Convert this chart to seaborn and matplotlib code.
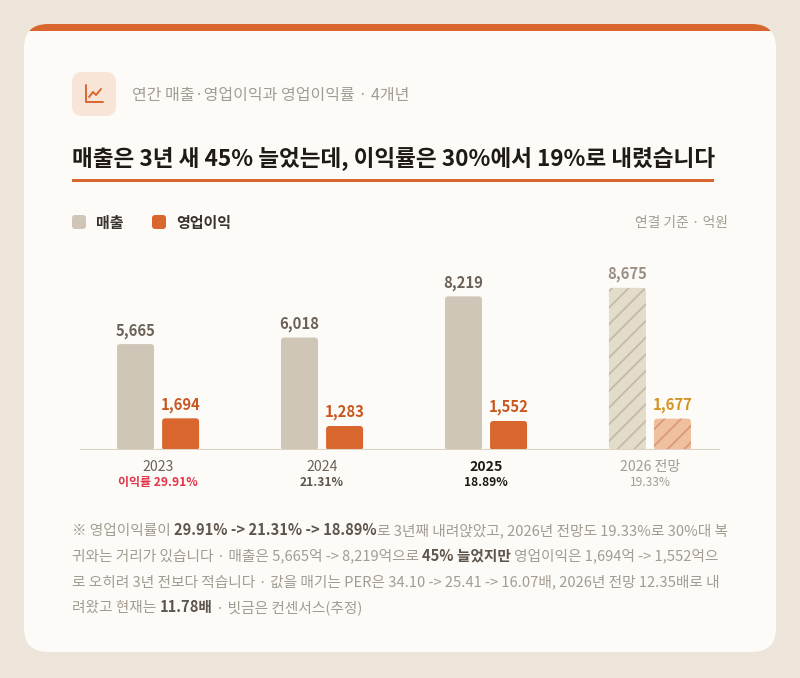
import pandas as pd
import seaborn as sns
import matplotlib.pyplot as plt
from matplotlib.patches import FancyBboxPatch, Rectangle

# Chart data (억원)
years = ["2023", "2024", "2025", "2026 전망"]
revenue = [5665, 6018, 8219, 8675]
op_income = [1694, 1283, 1552, 1677]
margin_labels = ["이익률 29.91%", "21.31%", "18.89%", "19.33%"]
forecast = [False, False, False, True]

subtitle = "연간 매출·영업이익과 영업이익률 · 4개년"
title = "매출은 3년 새 45% 늘었는데, 이익률은 30%에서 19%로 내렸습니다"
unit_note = "연결 기준 · 억원"
footnote = [
    [("※ 영업이익률이", False), ("29.91% -> 21.31% -> 18.89%", True),
     ("로 3년째 내려앉았고, 2026년 전망도 19.33%로 30%대 복", False, True)],
    [("귀와는 거리가 있습니다 · 매출은 5,665억 -> 8,219억으로", False), ("45% 늘었지만", True),
     ("영업이익은 1,694억 -> 1,552억으", False)],
    [("로 오히려 3년 전보다 적습니다 · 값을 매기는 PER은 34.10 -> 25.41 -> 16.07배, 2026년 전망 12.35배로 내", False)],
    [("려왔고 현재는", False), ("11.78배", True), ("· 빗금은 컨센서스(추정)", False)],
]

# Colours
BG = "#EDE5DA"
CARD = "#FCFBF7"
ORANGE = "#D9662E"
REV = "#CFC6B7"
REV_F = "#E4DCCB"
REV_H = "#C4BAA8"
OP_F = "#F0BF9E"
OP_H = "#D89A76"
DARK = "#1F1A16"
GRAY = "#A39C92"
BROWN = "#6B6157"

PT = 0.72  # px -> pt at dpi 100

df = pd.DataFrame({
    "year": years * 2,
    "metric": ["매출"] * 4 + ["영업이익"] * 4,
    "value": revenue + op_income,
})

sns.set_theme(style="white")
plt.rcParams["font.family"] = ["Noto Sans CJK KR", "DejaVu Sans"]
plt.rcParams["hatch.linewidth"] = 1.3

fig = plt.figure(figsize=(8, 6.78), dpi=100)
fig.patch.set_facecolor(BG)

# full-figure axes in pixel coords for decoration
bg = fig.add_axes([0, 0, 1, 1], zorder=0)
bg.set_xlim(0, 800)
bg.set_ylim(678, 0)
bg.axis("off")

card = FancyBboxPatch((24, 24), 752, 628, boxstyle="round,pad=0,rounding_size=24",
                      fc=CARD, ec="none")
bg.add_patch(card)
strip = Rectangle((24, 24), 752, 7, fc=ORANGE, ec="none")
bg.add_patch(strip)
strip.set_clip_path(card)

# icon
bg.add_patch(FancyBboxPatch((72, 72), 44, 44, boxstyle="round,pad=0,rounding_size=10",
                            fc="#F9E5D8", ec="none"))
bg.plot([86, 86, 103], [85, 102, 102], color=ORANGE, lw=1.4, solid_capstyle="round")
bg.plot([89, 93, 96, 101], [97, 92, 95, 89], color=ORANGE, lw=1.4,
        solid_capstyle="round", solid_joinstyle="round")

bg.text(132, 100, subtitle, fontsize=16 * PT, color=GRAY, va="baseline")
bg.text(72, 165, title, fontsize=22.6 * PT, color=DARK, va="baseline", weight="bold")
bg.add_patch(Rectangle((72, 179), 642, 3, fc=ORANGE, ec="none"))

# legend
bg.add_patch(FancyBboxPatch((72, 215), 14, 14, boxstyle="round,pad=0,rounding_size=3",
                            fc=REV, ec="none"))
bg.text(96, 228, "매출", fontsize=15 * PT, color="#3A332D", va="baseline", weight="bold")
bg.add_patch(FancyBboxPatch((152, 215), 14, 14, boxstyle="round,pad=0,rounding_size=3",
                            fc=ORANGE, ec="none"))
bg.text(176, 228, "영업이익", fontsize=15 * PT, color="#3A332D", va="baseline", weight="bold")
bg.text(728, 227, unit_note, fontsize=13.8 * PT, color=GRAY, va="baseline", ha="right")

# chart axes: baseline at y=450px, x 80..720px
ax = fig.add_axes([80 / 800, (678 - 450) / 678, 640 / 800, 200 / 678], zorder=1)
ax.patch.set_alpha(0)
sns.barplot(data=df, x="year", y="value", hue="metric", ax=ax, width=0.55, gap=0.18,
            palette=[REV, ORANGE], saturation=1, errorbar=None, legend=False)
ax.set_xlim(-0.476, 3.427)
ax.set_ylim(0, 10700)
for s in ax.spines.values():
    s.set_visible(False)
ax.set_xticks([])
ax.set_yticks([])
ax.set_xlabel("")
ax.set_ylabel("")
ax.axhline(0, color="#DDD3C3", lw=1.5, zorder=3)

aspect = (10700 / 200) / (3.903 / 640)
for p in list(ax.patches):
    x, w, h = p.get_x(), p.get_width(), p.get_height()
    xc = x + w / 2
    i = int(round(xc))
    is_rev = xc < i
    if forecast[i]:
        fc, hc, hatch = (REV_F, REV_H, "//") if is_rev else (OP_F, OP_H, "//")
    else:
        fc, hc, hatch = (REV, None, None) if is_rev else (ORANGE, None, None)
    p.remove()
    bar = FancyBboxPatch((x, 0), w, h, boxstyle=f"round,pad=0,rounding_size={3 * 3.903 / 640}",
                         mutation_aspect=aspect, fc=fc, ec=hc if hc else "none",
                         lw=0, hatch=hatch, zorder=2)
    ax.add_patch(bar)
    if is_rev:
        col = "#9A8F84" if forecast[i] else BROWN
    else:
        col = "#D4921F" if forecast[i] else "#C8561F"
    ax.annotate(f"{int(h):,}", (xc, h), xytext=(0, 9), textcoords="offset pixels",
                ha="center", va="baseline", fontsize=14.8 * PT, weight="bold", color=col)

# category labels
year_styles = [(BROWN, "normal"), (BROWN, "normal"), (DARK, "bold"), (GRAY, "normal")]
margin_styles = [("#E0344A", "bold"), ("#5E554C", "bold"), (DARK, "bold"), (GRAY, "normal")]
for i, (yr, mg) in enumerate(zip(years, margin_labels)):
    ax.annotate(yr, (i, 0), xytext=(0, -21), textcoords="offset pixels", ha="center",
                va="baseline", fontsize=14 * PT, color=year_styles[i][0],
                weight=year_styles[i][1], annotation_clip=False)
    ax.annotate(mg, (i, 0), xytext=(0, -36), textcoords="offset pixels", ha="center",
                va="baseline", fontsize=12 * PT, color=margin_styles[i][0],
                weight=margin_styles[i][1], annotation_clip=False)

# footnote with bold runs
renderer = fig.canvas.get_renderer()
fs = 14.7 * PT


def width_of(s, weight):
    t = bg.text(0, 0, s, fontsize=fs, weight=weight)
    w = t.get_window_extent(renderer).width
    t.remove()
    return w


space_w = width_of("가 가", "normal") - width_of("가가", "normal")
for li, line in enumerate(footnote):
    x = 72
    y = 535 + li * 25.7
    for k, seg in enumerate(line):
        txt, bold = seg[0], seg[1]
        nospace = len(seg) > 2
        if k > 0 and not nospace:
            x += space_w
        weight = "bold" if bold else "normal"
        t = bg.text(x, y, txt, fontsize=fs, weight=weight, va="baseline",
                    color="#5E554C" if bold else GRAY)
        x += t.get_window_extent(renderer).width

fig.savefig("out.png", dpi=100, facecolor=BG)
